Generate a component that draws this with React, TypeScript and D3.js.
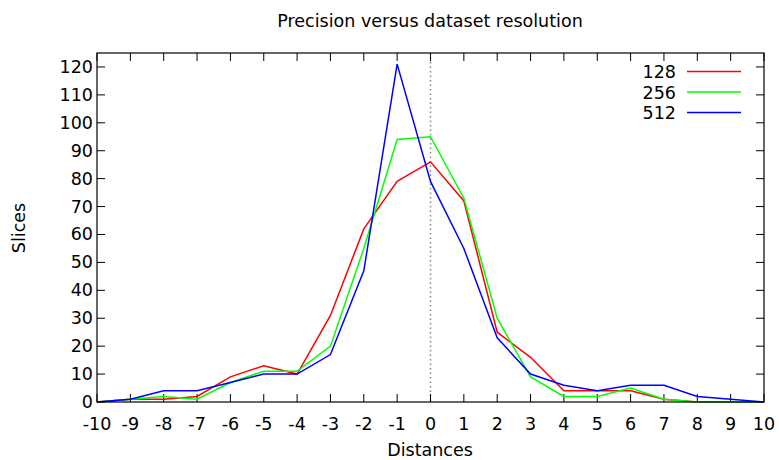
import React from "react";
import * as d3 from "d3";

const distances = [-10, -9, -8, -7, -6, -5, -4, -3, -2, -1, 0, 1, 2, 3, 4, 5, 6, 7, 8, 9, 10];
const res128 = [0, 1, 1, 2, 9, 13, 10, 31, 62, 79, 86, 72, 25, 16, 4, 4, 4, 1, 0, 0, 0];
const res256 = [0, 1, 2, 1, 7, 11, 11, 20, 55, 94, 95, 73, 30, 9, 2, 2, 5, 1, 0, 0, 0];
const res512 = [0, 1, 4, 4, 7, 10, 10, 17, 47, 121, 79, 55, 23, 10, 6, 4, 6, 6, 2, 1, 0];
const seriesNames = ["128", "256", "512"];
const seriesColors = ["#ff0000", "#00ff00", "#0000ff"];
const xTicks = d3.range(-10, 11, 1);
const yTicks = d3.range(0, 121, 10);

const W = 779, H = 460;
const L = 97, R = 764, T = 53, B = 402;
const font = "DejaVu Sans, sans-serif";
const fs = 17.5;

export default function App() {
  const x = d3.scaleLinear().domain([-10, 10]).range([L, R]);
  const y = d3.scaleLinear().domain([0, 125]).range([B, T]);
  const series = [res128, res256, res512];
  const line = d3.line<number>().x((_, i) => x(distances[i])).y((d) => y(d));
  const tl = 8;
  return (
    <svg width={W} height={H} style={{ position: "absolute", left: 0, top: 0 }} fontFamily={font}>
      <rect x={0} y={0} width={W} height={H} fill="#fff" />
      <text x={430} y={27} textAnchor="middle" fontSize={fs}>Precision versus dataset resolution</text>
      <line x1={x(0)} x2={x(0)} y1={T} y2={B} stroke="#888" strokeWidth={1.5} strokeDasharray="1.5,3" />
      {xTicks.map((t) => (
        <g key={"x" + t}>
          <line x1={x(t)} x2={x(t)} y1={B} y2={B - tl} stroke="#000" />
          <line x1={x(t)} x2={x(t)} y1={T} y2={T + tl} stroke="#000" />
          <text x={x(t)} y={B + 28} textAnchor="middle" fontSize={fs}>{t}</text>
        </g>
      ))}
      {yTicks.map((t) => (
        <g key={"y" + t}>
          <line x1={L} x2={L + tl} y1={y(t)} y2={y(t)} stroke="#000" />
          <line x1={R} x2={R - tl} y1={y(t)} y2={y(t)} stroke="#000" />
          <text x={L - 4} y={y(t) + 6} textAnchor="end" fontSize={fs}>{t}</text>
        </g>
      ))}
      {series.map((s, i) => (
        <path key={i} d={line(s) || ""} fill="none" stroke={seriesColors[i]} strokeWidth={1.5} />
      ))}
      <rect x={L} y={T} width={R - L} height={B - T} fill="none" stroke="#000" strokeWidth={1.2} />
      {seriesNames.map((n, i) => (
        <g key={n}>
          <text x={676} y={78 + i * 20.5} textAnchor="end" fontSize={fs}>{n}</text>
          <line x1={687} x2={741} y1={71.5 + i * 20.5} y2={71.5 + i * 20.5} stroke={seriesColors[i]} strokeWidth={1.5} />
        </g>
      ))}
      <text x={430} y={456} textAnchor="middle" fontSize={fs}>Distances</text>
      <text transform={`translate(25,228) rotate(-90)`} textAnchor="middle" fontSize={fs}>Slices</text>
    </svg>
  );
}
